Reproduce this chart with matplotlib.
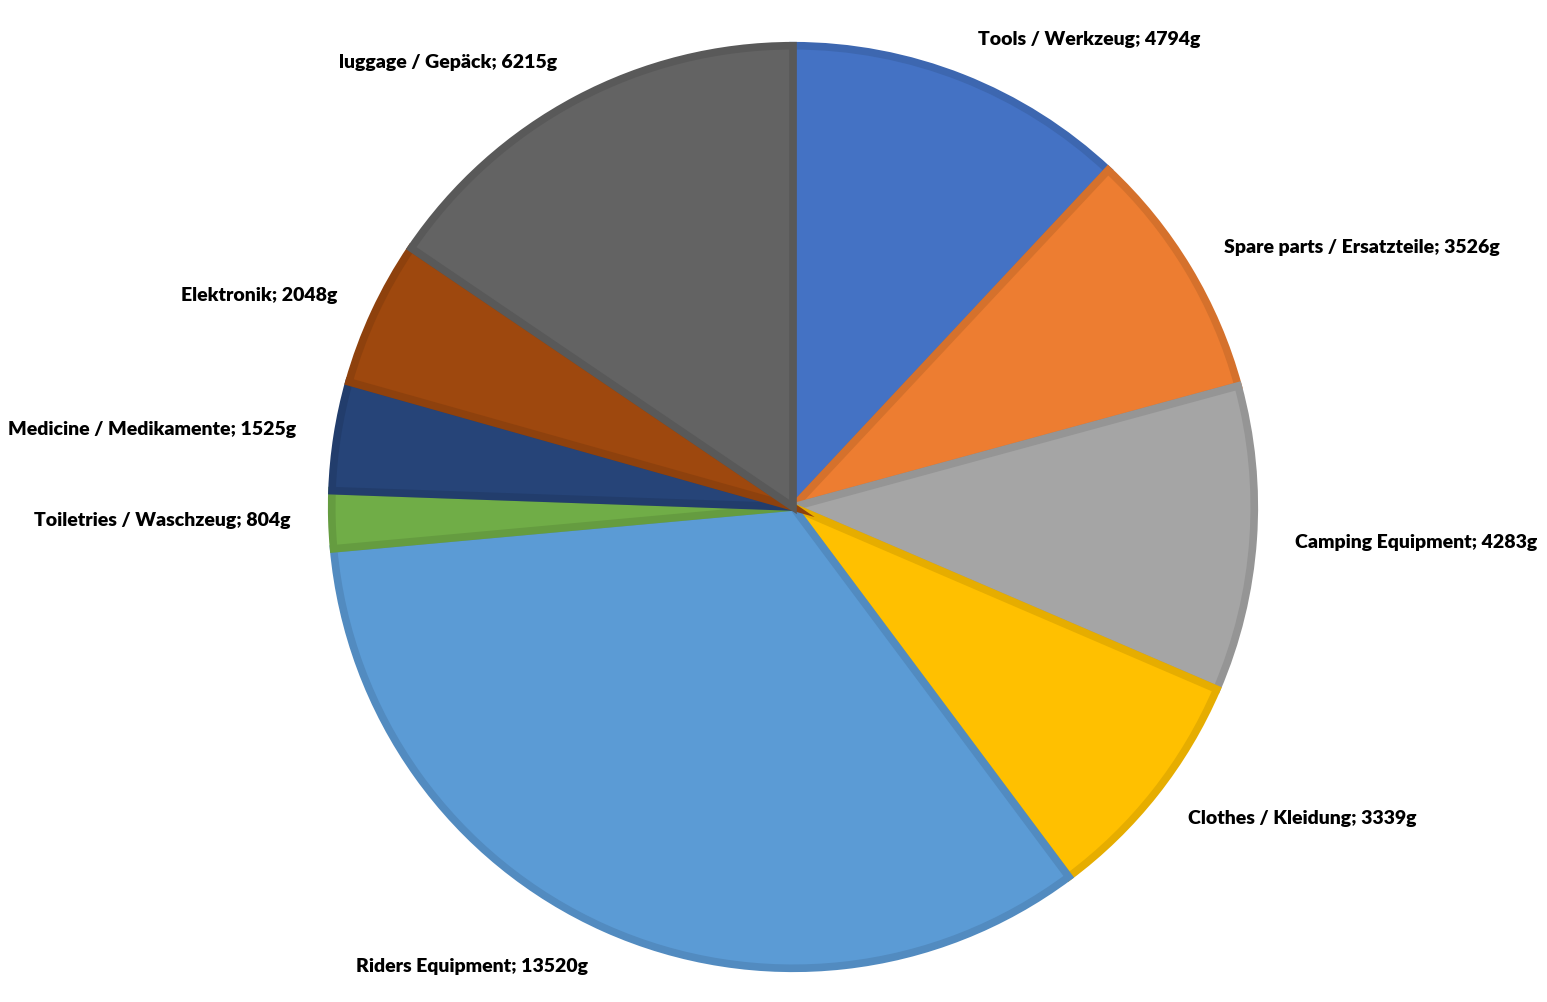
import matplotlib
matplotlib.use("Agg")
import matplotlib.pyplot as plt
import matplotlib.colors as mcolors

# ==================================
# DATA
# ==================================

categories = [
    "Tools / Werkzeug",
    "Spare parts / Ersatzteile",
    "Camping Equipment",
    "Clothes / Kleidung",
    "Riders Equipment",
    "Toiletries / Waschzeug",
    "Medicine / Medikamente",
    "Elektronik",
    "luggage / Gepäck",
]
weights = [4794, 3526, 4283, 3339, 13520, 804, 1525, 2048, 6215]
colors = ["#4472C4", "#ED7D31", "#A5A5A5", "#FFC000", "#5B9BD5",
          "#70AD47", "#264478", "#9E480E", "#636363"]

labels = [f"{c}; {w}g" for c, w in zip(categories, weights)]

# darker edge colour per slice
edge_colors = [tuple(v * 0.9 for v in mcolors.to_rgb(c)) for c in colors]

# ==================================
# FIGURE
# ==================================

fig = plt.figure(figsize=(15.47, 10.02), dpi=100)
ax = fig.add_axes([328 / 1547, 30 / 1002, 930 / 1547, 930 / 1002])

wedges, texts = ax.pie(
    weights,
    labels=labels,
    colors=colors,
    startangle=90,
    counterclock=False,
    radius=0.992,
    labeldistance=1.09,
    textprops=dict(fontsize=14, fontweight="heavy", family=["Lato", "DejaVu Sans"]),
)

for w, ec in zip(wedges, edge_colors):
    w.set_edgecolor(ec)
    w.set_linewidth(5.5)

ax.set_xlim(-1, 1)
ax.set_ylim(-1, 1)
ax.set_aspect("equal")
ax.axis("off")

fig.savefig("out.png", dpi=100, facecolor="white")
